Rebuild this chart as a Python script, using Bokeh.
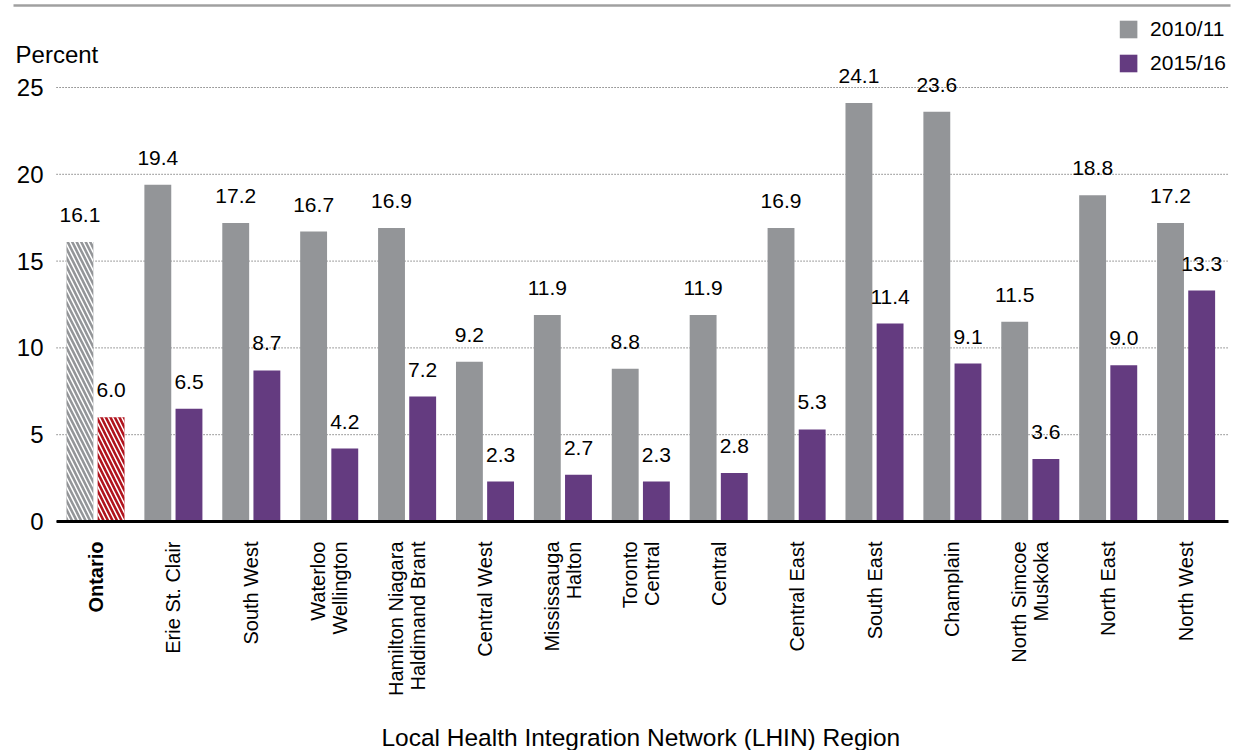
import math
from bokeh.plotting import figure
from bokeh.models import ColumnDataSource, Range1d, Legend, LegendItem
from bokeh.transform import dodge
from bokeh.core.properties import value
from bokeh.embed import file_html
from bokeh.resources import INLINE

regions = ["Ontario", "Erie St. Clair", "South West", "Waterloo\nWellington",
           "Hamilton Niagara\nHaldimand Brant", "Central West", "Mississauga\nHalton",
           "Toronto\nCentral", "Central", "Central East", "South East", "Champlain",
           "North Simcoe\nMuskoka", "North East", "North West"]
v2010 = [16.1, 19.4, 17.2, 16.7, 16.9, 9.2, 11.9, 8.8, 11.9, 16.9, 24.1, 23.6, 11.5, 18.8, 17.2]
v2015 = [6.0, 6.5, 8.7, 4.2, 7.2, 2.3, 2.7, 2.3, 2.8, 5.3, 11.4, 9.1, 3.6, 9.0, 13.3]
series = ["2010/11", "2015/16"]
yticks = [0, 5, 10, 15, 20, 25]
x_title = "Local Health Integration Network (LHIN) Region"
y_title = "Percent"

GRAY = "#939598"
PURPLE = "#643b80"
RED = "#b0121c"
FONT = value("Liberation Sans")

# ---- pixel layout of the canvas ----
FIG_W, FIG_H = 1243, 750
PITCH = 77.9          # px per category
X0_PX = 95.0          # px of first category centre
Y0_PX = 521.0         # px of value 0
PPU = 17.36           # px per percent

def xdata(px):
    return (px - X0_PX) / PITCH

def ydata(py):
    return (Y0_PX - py) / PPU

n = len(regions)
idx = list(range(n))
x_left = -0.5
x_right = xdata(1228)

p = figure(width=FIG_W, height=FIG_H, output_backend="svg", toolbar_location=None,
           x_range=Range1d(xdata(0), xdata(FIG_W)),
           y_range=Range1d(ydata(FIG_H), ydata(0)),
           x_axis_type=None, y_axis_type=None,
           min_border=0, min_border_left=0, min_border_right=0,
           min_border_top=0, min_border_bottom=0)
p.outline_line_color = None
p.grid.visible = False

# top rule
p.segment(x0=[xdata(13)], x1=[xdata(1230)], y0=[ydata(5)], y1=[ydata(5)],
          line_color="#a0a0a0", line_width=2.5)

# gridlines and y tick labels
p.segment(x0=[x_left] * len(yticks), x1=[x_right] * len(yticks), y0=yticks, y1=yticks,
          line_color="#444444", line_width=1, line_dash="1 2")
p.text(x=[x_left] * len(yticks), y=yticks, text=[str(t) for t in yticks],
       x_offset=-13, text_align="right", text_baseline="middle",
       text_font=FONT, text_font_size="24px", text_color="black")
p.text(x=[x_left], y=[yticks[-1]], text=[y_title], x_offset=-41, y_offset=-33,
       text_align="left", text_baseline="middle",
       text_font=FONT, text_font_size="24px", text_color="black")

# bars
OFF = 0.2
W = 0.345
labA = [f"{v:.1f}" for v in v2010]
labB = [f"{v:.1f}" for v in v2015]
ont = ColumnDataSource(dict(x=idx[:1], a=v2010[:1], b=v2015[:1], la=labA[:1], lb=labB[:1]))
rest = ColumnDataSource(dict(x=idx[1:], a=v2010[1:], b=v2015[1:], la=labA[1:], lb=labB[1:]))

p.vbar(x=dodge("x", -OFF), top="a", width=W, source=ont, fill_color=GRAY, line_color=None,
       hatch_pattern="\\", hatch_color="white", hatch_scale=9, hatch_weight=1.5)
p.vbar(x=dodge("x", OFF), top="b", width=W, source=ont, fill_color=RED, line_color=None,
       hatch_pattern="\\", hatch_color="white", hatch_scale=9, hatch_weight=1.5)
ra = p.vbar(x=dodge("x", -OFF), top="a", width=W, source=rest, fill_color=GRAY, line_color=None)
rb = p.vbar(x=dodge("x", OFF), top="b", width=W, source=rest, fill_color=PURPLE, line_color=None)

for src in (ont, rest):
    for col, lab, off in (("a", "la", -OFF), ("b", "lb", OFF)):
        p.text(x=dodge("x", off), y=col, text=lab, source=src,
               text_align="center", text_baseline="alphabetic", y_offset=-27,
               text_font=FONT, text_font_size="21px", text_color="black")

# x axis line
p.segment(x0=[x_left], x1=[x_right], y0=[0], y1=[0], line_color="black", line_width=3)

# category labels
cats = ColumnDataSource(dict(x=idx, y=[0] * n, name=regions,
                             style=["bold"] + ["normal"] * (n - 1)))
p.text(x="x", y="y", text="name", source=cats, angle=math.pi / 2, y_offset=20,
       text_align="right", text_baseline="middle", text_line_height=1.0,
       text_font=FONT, text_font_size="20px", text_font_style="style", text_color="black")

# x axis title
p.text(x=[(n - 1) / 2], y=[0], text=[x_title], y_offset=216,
       text_align="center", text_baseline="middle",
       text_font=FONT, text_font_size="24.5px", text_color="black")

legend = Legend(items=[LegendItem(label=series[0], renderers=[ra]),
                       LegendItem(label=series[1], renderers=[rb])],
                location="top_right", margin=17, padding=6, spacing=10,
                glyph_width=22, glyph_height=22, label_height=22, label_standoff=11,
                label_text_font_size="21px", label_text_font="Liberation Sans",
                label_text_color="black",
                border_line_color=None, background_fill_alpha=0)
p.add_layout(legend, "center")

open("out.html", "w").write(file_html(p, INLINE))
